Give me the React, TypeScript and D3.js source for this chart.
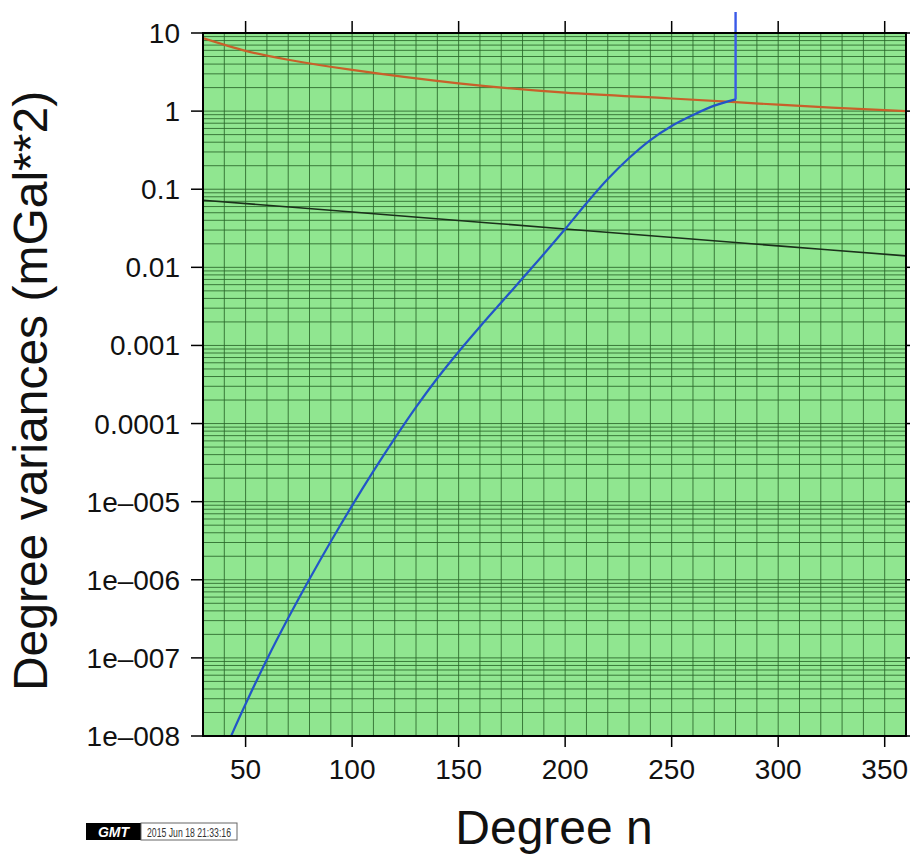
import React from "react";
import * as d3 from "d3";

// ---- Data ----
const xTicks = [50, 100, 150, 200, 250, 300, 350];
const yTickValues = [1e-8, 1e-7, 1e-6, 1e-5, 1e-4, 1e-3, 1e-2, 1e-1, 1, 10];
const yTickLabels = ["1e–008", "1e–007", "1e–006", "1e–005", "0.0001", "0.001", "0.01", "0.1", "1", "10"];

// Red (orange-brown) curve: degree n, variance
const redN = [30, 50, 70, 100, 150, 200, 250, 280, 300, 325, 360];
const redV = [8.6, 5.9, 4.55, 3.37, 2.27, 1.72, 1.45, 1.3, 1.21, 1.11, 1.0];

// Black line
const blackN = [30, 100, 200, 300, 360];
const blackV = [0.0724, 0.0511, 0.031, 0.0188, 0.014];

// Blue curve: degree n, log10(variance)
const blueN = [40, 44, 50, 60, 70, 80, 90, 100, 110, 120, 130, 140, 150, 160, 170, 180, 190, 200, 210, 220, 230, 240, 250, 260, 270, 280];
const blueLog = [-8.2, -7.95, -7.59, -7.02, -6.49, -5.99, -5.51, -5.05, -4.61, -4.19, -3.79, -3.42, -3.08, -2.76, -2.45, -2.14, -1.83, -1.51, -1.18, -0.87, -0.6, -0.37, -0.19, -0.05, 0.07, 0.15];
// Spike at the last degree
const spikeN = [280, 280];
const spikeV = [Math.pow(10, 0.15), 1e4];

const xDomain = [30, 360];
const yDomain = [1e-8, 10];

export default function App() {
  const W = 910, H = 856;
  const L = 203, R = 906, T = 33, B = 736;
  const x = d3.scaleLinear().domain(xDomain).range([L, R]);
  const y = d3.scaleLog().domain(yDomain).range([B, T]);

  const vGrid = d3.range(30, 361, 10);
  const hGrid: number[] = [];
  for (let d = -8; d <= 1; d++) {
    for (let k = 1; k <= 9; k++) {
      const v = k * Math.pow(10, d);
      if (v <= 10.0001) hGrid.push(v);
    }
  }

  const line = d3.line<[number, number]>().x((d) => x(d[0])).y((d) => y(d[1])).curve(d3.curveCatmullRom.alpha(0.5));
  const lin = d3.line<[number, number]>().x((d) => x(d[0])).y((d) => y(d[1]));

  const red = redN.map((n, i) => [n, redV[i]] as [number, number]);
  const black = blackN.map((n, i) => [n, blackV[i]] as [number, number]);
  const blue = blueN.map((n, i) => [n, Math.pow(10, blueLog[i])] as [number, number]);
  const spike = spikeN.map((n, i) => [n, spikeV[i]] as [number, number]);

  const font = "'Liberation Sans', Arial, Helvetica, sans-serif";
  const gridColor = "#2a662a";

  return (
    <svg width={W} height={H} style={{ position: "absolute", left: 0, top: 0, background: "#fff" }} fontFamily={font}>
      <defs>
        <clipPath id="plotClip">
          <rect x={L} y={T} width={R - L} height={B - T} />
        </clipPath>
        <clipPath id="spikeClip">
          <rect x={L} y={12} width={R - L} height={B - 12} />
        </clipPath>
      </defs>
      <rect x={L} y={T} width={R - L} height={B - T} fill="#90e690" />
      <g stroke={gridColor} strokeWidth={1} strokeOpacity={0.85}>
        {vGrid.map((v) => (
          <line key={"v" + v} x1={x(v)} x2={x(v)} y1={T} y2={B} />
        ))}
        {hGrid.map((v, i) => (
          <line key={"h" + i} x1={L} x2={R} y1={y(v)} y2={y(v)} />
        ))}
      </g>
      <g clipPath="url(#plotClip)" fill="none">
        <path d={line(red) || ""} stroke="#c8602a" strokeWidth={2.2} />
        <path d={line(black) || ""} stroke="#1a301a" strokeWidth={1.6} />
        <path d={line(blue) || ""} stroke="#2255c8" strokeWidth={2.2} />
      </g>
      <g clipPath="url(#spikeClip)" fill="none">
        <path d={lin(spike) || ""} stroke="#3a5ae8" strokeWidth={2.4} />
      </g>
      {/* frame */}
      <rect x={L} y={T} width={R - L} height={B - T} fill="none" stroke="#000" strokeWidth={2} />
      {/* ticks */}
      <g stroke="#000" strokeWidth={1.5}>
        {xTicks.map((t) => (
          <line key={"xb" + t} x1={x(t)} x2={x(t)} y1={B} y2={B + 11} />
        ))}
        {xTicks.map((t) => (
          <line key={"xt" + t} x1={x(t)} x2={x(t)} y1={T} y2={T - 12} />
        ))}
        {yTickValues.map((t) => (
          <line key={"yl" + t} x1={L} x2={L - 12} y1={y(t)} y2={y(t)} />
        ))}
        {yTickValues.map((t) => (
          <line key={"yr" + t} x1={R} x2={R + 12} y1={y(t)} y2={y(t)} />
        ))}
      </g>
      <g fontSize={28} fill="#111">
        {xTicks.map((t) => (
          <text key={"xl" + t} x={x(t)} y={779} textAnchor="middle">
            {t}
          </text>
        ))}
        {yTickValues.map((t, i) => (
          <text key={"ylab" + t} x={180} y={y(t) + 10} textAnchor="end">
            {yTickLabels[i]}
          </text>
        ))}
      </g>
      <text x={554} y={844} textAnchor="middle" fontSize={48} fill="#111">
        Degree n
      </text>
      <text transform="translate(47,391) rotate(-90)" textAnchor="middle" fontSize={48} fill="#111">
        Degree variances (mGal**2)
      </text>
      {/* GMT time stamp */}
      <g>
        <rect x={86} y={823} width={55} height={17} fill="#000" />
        <text x={113.5} y={837} textAnchor="middle" fontSize={14} fill="#fff" fontStyle="italic" fontWeight="bold">
          GMT
        </text>
        <rect x={141} y={823} width={96} height={17} fill="#fff" stroke="#666" strokeWidth={1} />
        <text x={147} y={836.5} fontSize={12.5} fill="#333" textLength={84} lengthAdjust="spacingAndGlyphs">
          2015 Jun 18 21:33:16
        </text>
      </g>
    </svg>
  );
}
